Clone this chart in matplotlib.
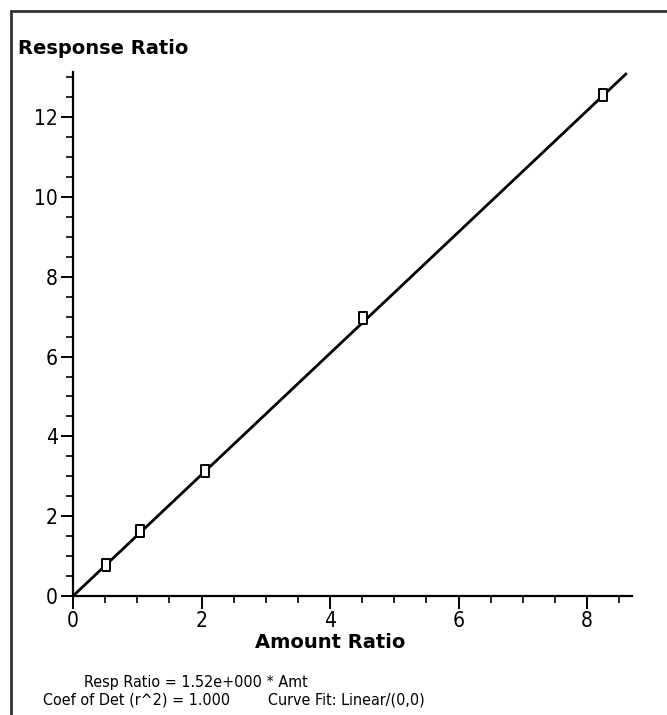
import matplotlib
matplotlib.use("Agg")
import matplotlib.pyplot as plt
from matplotlib.patches import Rectangle
from matplotlib.ticker import MultipleLocator
import numpy as np

# calibration points
amount_ratio = [0.52, 1.05, 2.05, 4.52, 8.25]
response_ratio = [0.78, 1.63, 3.13, 6.97, 12.56]
slope = 1.52
fit_x = np.array([0.0, 8.62])
x_ticks = [0, 2, 4, 6, 8]
y_ticks = [0, 2, 4, 6, 8, 10, 12]

plt.rcParams['font.family'] = ['DejaVu Sans']

W, H = 667, 715
fig = plt.figure(figsize=(W / 100, H / 100), dpi=100)
ax = fig.add_axes([73 / W, 1 - 596 / H, (632 - 73) / W, (596 - 72) / H])

ax.plot(fit_x, slope * fit_x, color='black', lw=2, solid_capstyle='butt', zorder=2)
box = [(-0.35, -0.5), (0.35, -0.5), (0.35, 0.5), (-0.35, 0.5), (-0.35, -0.5)]
ax.plot(amount_ratio, response_ratio, linestyle='none', marker=box, markersize=8.5,
        markerfacecolor='white', markeredgecolor='black', markeredgewidth=1.4, zorder=3)

ax.set_xlim(0, 8.7)
ax.set_ylim(0, 13.13)
ax.set_xticks(x_ticks)
ax.set_yticks(y_ticks)
ax.xaxis.set_minor_locator(MultipleLocator(0.5))
ax.yaxis.set_minor_locator(MultipleLocator(0.5))
for s in ['top', 'right']:
    ax.spines[s].set_visible(False)
for s in ['left', 'bottom']:
    ax.spines[s].set_linewidth(1.6)
ax.tick_params(which='major', length=9, width=1.4, labelsize=15, pad=2)
ax.tick_params(which='minor', length=5, width=1.2)
for lab in ax.get_xticklabels() + ax.get_yticklabels():
    lab.set_fontstretch('condensed')

fig.text(18 / W, 1 - 49 / H, 'Response Ratio', fontsize=14, fontweight='bold',
         ha='left', va='center')
fig.text(330 / W, 1 - 642 / H, 'Amount Ratio', fontsize=14, fontweight='bold',
         ha='center', va='center')
fig.text(84 / W, 1 - 682 / H, 'Resp Ratio = 1.52e+000 * Amt', fontsize=11.5,
         ha='left', va='center', fontstretch='condensed')
fig.text(43 / W, 1 - 700 / H, 'Coef of Det (r^2) = 1.000', fontsize=11.5,
         ha='left', va='center', fontstretch='condensed')
fig.text(268 / W, 1 - 700 / H, 'Curve Fit: Linear/(0,0)', fontsize=11.5,
         ha='left', va='center', fontstretch='condensed')

fig.add_artist(Rectangle((11 / W, -0.1), 1.2, 1.1 - 11 / H, transform=fig.transFigure,
                         fill=False, edgecolor='#333333', lw=2))

fig.savefig('out.png', dpi=100)
